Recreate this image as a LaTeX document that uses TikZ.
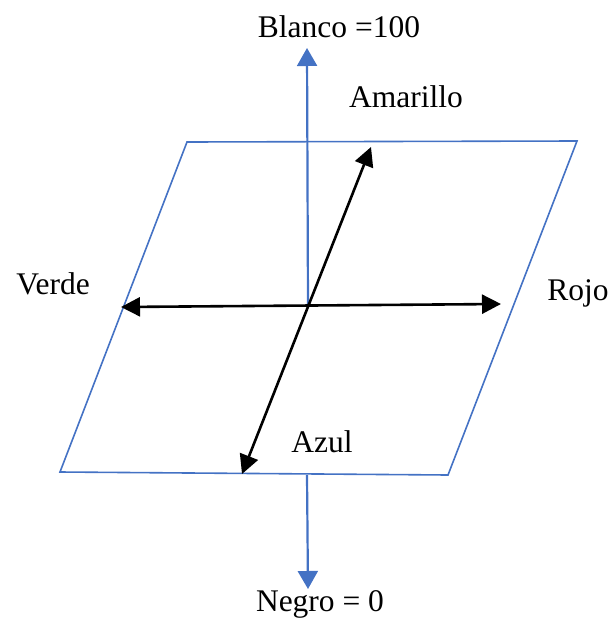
\documentclass[tikz,border=0pt]{standalone}
\usepackage{fontspec}
\setmainfont{Liberation Serif}
\usetikzlibrary{arrows.meta}
\definecolor{axisblue}{RGB}{68,114,196}
\tikzset{
  lbl/.style={font=\fontsize{31.5}{36}\selectfont, inner sep=0pt},
  plane/.style={draw=axisblue, line width=1.6pt},
  bluearrow/.style={draw=axisblue, line width=2.2pt, -{Triangle[width=20pt,length=18pt]}},
  blackarrow/.style={draw=black, line width=2.6pt, {Triangle[width=19pt,length=19pt]}-{Triangle[width=19pt,length=19pt]}}
}
\begin{document}
\begin{tikzpicture}[x=1pt,y=-1pt]
\useasboundingbox (0,0) rectangle (612,619);
% plane corners
\coordinate (tl) at (187,142);
\coordinate (tr) at (577,141);
\coordinate (br) at (448,475);
\coordinate (bl) at (60,472);
\draw[plane] (tl) -- (tr) -- (br) -- (bl) -- cycle;
% axes points
\coordinate (c) at (308,306);
\coordinate (top) at (307,48);
\coordinate (bot0) at (307,475);
\coordinate (bot) at (308,589);
\coordinate (vl) at (121,307);
\coordinate (rr) at (501,304);
\coordinate (az) at (242,474);
\coordinate (am) at (371,147);
% blue arrows
\draw[bluearrow] (c) -- (top);
\draw[bluearrow] (bot0) -- (bot);
% black arrows
\draw[blackarrow] (vl) -- (rr);
\draw[blackarrow] (az) -- (am);
% labels
\node[lbl] (blanco) at (339,27) {Blanco =100};
\node[lbl] (amarillo) at (406,97) {Amarillo};
\node[lbl] (verde) at (53,284) {Verde};
\node[lbl] (rojo) at (578,293) {Rojo};
\node[lbl] (azul) at (322,442) {Azul};
\node[lbl] (negro) at (320,604) {Negro = 0};
\end{tikzpicture}
\end{document}
